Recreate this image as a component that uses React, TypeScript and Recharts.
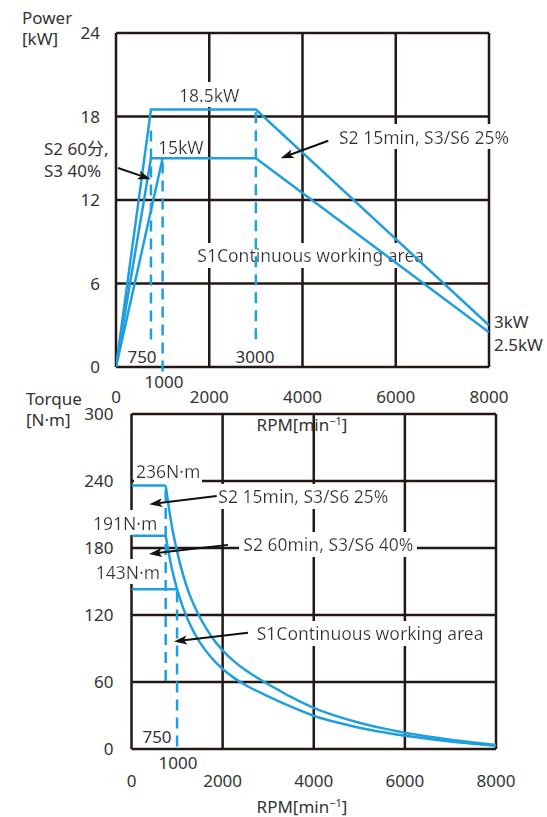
import React from "react";
import { LineChart, Line, XAxis, YAxis, CartesianGrid, ReferenceLine, ReferenceDot } from "recharts";

const rpmTicks = [0, 2000, 4000, 6000, 8000];
const powerTicks = [0, 6, 12, 18, 24];
const torqueTicks = [0, 60, 120, 180, 240, 300];

// power curves, kW
const powerRpmS2_15 = [0, 750, 3000, 8000];
const powerS2_15 = [0, 18.5, 18.5, 3];
const powerRpmS2_60 = [0, 750, 3000, 8000];
const powerS2_60 = [0, 15, 15, 2.5];
const powerRpmS1 = [0, 1000];
const powerS1 = [0, 15];

// torque curves, N·m: flat part, then falling part
const torqueFlatRpm = [0, 750];
const torqueFlatS2_15 = [236, 236];
const torqueFlatS2_60 = [191, 191];
const torqueRpm = [750, 875, 1000, 1125, 1250, 1375, 1500, 1750, 2000, 2250, 2500, 2750, 3000, 3250, 3500, 4000, 4500, 5000, 5500, 6000, 6500, 7000, 7500, 8000];
const torqueS2_15 = [236, 202, 177, 157, 141, 128.5, 118, 101, 88.3, 78.5, 70.7, 64.0, 58.0, 52.2, 46.6, 36.8, 29.4, 23.5, 18.7, 14.6, 11.2, 8.3, 5.8, 3.6];
const torqueS2_60 = [191, 163.7, 143.2, 127.3, 114.6, 104.2, 95.5, 81.9, 71.6, 63.7, 57.3, 52.0, 47.2, 42.4, 37.9, 29.8, 23.9, 19.1, 15.2, 11.9, 9.2, 6.8, 4.8, 3.0];
const torqueRpmS1 = [0, 1000];
const torqueS1 = [143, 143];

// dashed speed markers
const powerDashRpm = [750, 1000, 3000];
const powerDashTop = [17, 14.7, 18.3];
const powerDashBottom = [1.9, -0.5, 1.9];
const torqueDashRpm = [750, 1000];
const torqueDashTop = [232, 141];
const torqueDashBottom = [58, -2];

// annotations (text at data position)
const powerNotes = ["18.5kW", "15kW", "S2 15min, S3/S6 25%", "S1Continuous working area"];
const powerNoteRpm = [1351, 901, 4783, 1744];
const powerNoteKw = [19.5, 15.74, 16.5, 7.98];
const powerNoteAnchor = ["start", "start", "start", "start"];
const powerArrowFrom = [[43, 14.3], [4553, 16.26]];
const powerArrowTo = [[744, 13.5], [3532, 15.0]];

const torqueNotes = ["236N·m", "191N·m", "143N·m", "S2 15min, S3/S6 25%", "S2 60min, S3/S6 40%", "S1Continuous working area"];
const torqueNoteRpm = [99, 566, 626, 1906, 2454, 2748];
const torqueNoteNm = [248.4, 202.2, 158, 225.5, 182.8, 103.2];
const torqueNoteAnchor = ["start", "end", "end", "start", "start", "start"];
const torqueArrowFrom = [[1870, 226.6], [2118, 182.8], [2557, 104]];
const torqueArrowTo = [[391, 219.2], [384, 174.7], [933, 96.3]];

const BLUE = "#1f9fdd";
const GRID = "#231815";
const TEXT = "#333";
const FONT = "'Noto Sans', 'Noto Sans CJK SC', sans-serif";

const pts = (xs: number[], ys: number[]) => xs.map((x, i) => ({ rpm: x, v: ys[i] }));

function Arrow(props: any) {
  const { x1, y1, x2, y2 } = props;
  const dx = x2 - x1;
  const dy = y2 - y1;
  const len = Math.hypot(dx, dy) || 1;
  const ux = dx / len;
  const uy = dy / len;
  const hl = 13;
  const hw = 4.5;
  const bx = x2 - ux * hl;
  const by = y2 - uy * hl;
  const nx = x2 - ux * (hl - 3);
  const ny = y2 - uy * (hl - 3);
  return (
    <g>
      <line x1={x1} y1={y1} x2={nx} y2={ny} stroke="#111" strokeWidth={2} />
      <polygon
        points={`${x2},${y2} ${bx - uy * hw},${by + ux * hw} ${nx},${ny} ${bx + uy * hw},${by - ux * hw}`}
        fill="#111"
      />
    </g>
  );
}

const noteShape = (text: string, anchor: string) => (p: any) => (
  <text
    x={p.cx}
    y={p.cy}
    dy="0.36em"
    textAnchor={anchor}
    fill={TEXT}
    fontSize={17.5}
    fontFamily={FONT}
    filter="url(#tbg)"
  >
    {text}
  </text>
);

function Tag({ x, y, children, align = "left" }: { x: number; y: number; children: React.ReactNode; align?: string }) {
  const tx = align === "center" ? "-50%" : "0";
  return (
    <div
      style={{
        position: "absolute",
        left: x,
        top: y,
        transform: `translate(${tx}, -50%)`,
        fontFamily: FONT,
        fontSize: 17,
        lineHeight: 1,
        color: TEXT,
        whiteSpace: "nowrap",
      }}
    >
      {children}
    </div>
  );
}

const tickStyle = { fill: TEXT, fontSize: 17, fontFamily: FONT };

// shared axes so that the back layer (grid, notes) and the front layer (curves) line up
function axes(yDomain: number[], yTicks: number[], xGap: number, yGap: number, showTicks: boolean) {
  return [
    <XAxis
      key="x"
      dataKey="rpm"
      type="number"
      domain={[0, 8000]}
      ticks={rpmTicks}
      axisLine={false}
      tickLine={false}
      tickSize={xGap}
      tickMargin={xGap}
      height={30}
      tick={showTicks ? tickStyle : false}
      allowDataOverflow
    />,
    <YAxis
      key="y"
      type="number"
      domain={yDomain}
      ticks={yTicks}
      axisLine={false}
      tickLine={false}
      tickSize={yGap}
      tickMargin={yGap}
      width={40}
      tick={showTicks ? tickStyle : false}
      allowDataOverflow
    />,
  ];
}

const layer: React.CSSProperties = { position: "absolute", left: 0, top: 0 };

export default function App() {
  const topMargin = { top: 33, right: 58, left: 76, bottom: 43 };
  const botMargin = { top: 24, right: 51, left: 91.5, bottom: 38 };
  return (
    <div style={{ position: "absolute", left: 0, top: 0, width: 547, height: 817, background: "#fff" }}>
      <svg width={0} height={0} style={{ position: "absolute" }}>
        <defs>
          <filter id="tbg" x="-0.02" y="0" width="1.04" height="1">
            <feFlood floodColor="#fff" />
            <feComposite in="SourceGraphic" operator="over" />
          </filter>
        </defs>
      </svg>

      {/* power chart */}
      <div style={{ ...layer, top: 0 }}>
        <LineChart width={547} height={440} margin={topMargin}>
          <CartesianGrid stroke={GRID} strokeWidth={2.5} horizontalValues={powerTicks} verticalValues={rpmTicks} />
          {axes([0, 24], powerTicks, 12, 8, true)}
          {powerNotes.map((t, i) => (
            <ReferenceDot
              key={t}
              x={powerNoteRpm[i]}
              y={powerNoteKw[i]}
              ifOverflow="visible"
              shape={noteShape(t, powerNoteAnchor[i])}
            />
          ))}
        </LineChart>
      </div>
      <div style={{ ...layer, top: 0 }}>
        <LineChart width={547} height={440} margin={topMargin}>
          {axes([0, 24], powerTicks, 12, 8, false)}
          {powerDashRpm.map((r, i) => (
            <ReferenceLine
              key={r}
              segment={[{ x: r, y: powerDashTop[i] }, { x: r, y: powerDashBottom[i] }]}
              stroke={BLUE}
              strokeWidth={2.5}
              strokeDasharray="11 7"
              ifOverflow="visible"
            />
          ))}
          <Line data={pts(powerRpmS2_15, powerS2_15)} dataKey="v" stroke={BLUE} strokeWidth={2.5} dot={false} isAnimationActive={false} />
          <Line data={pts(powerRpmS2_60, powerS2_60)} dataKey="v" stroke={BLUE} strokeWidth={2.5} dot={false} isAnimationActive={false} />
          <Line data={pts(powerRpmS1, powerS1)} dataKey="v" stroke={BLUE} strokeWidth={2.5} dot={false} isAnimationActive={false} />
          {powerArrowFrom.map((f, i) => (
            <ReferenceLine
              key={i}
              segment={[{ x: f[0], y: f[1] }, { x: powerArrowTo[i][0], y: powerArrowTo[i][1] }]}
              ifOverflow="visible"
              shape={Arrow}
            />
          ))}
        </LineChart>
      </div>

      {/* torque chart */}
      <div style={{ ...layer, top: 390 }}>
        <LineChart width={547} height={427} margin={botMargin}>
          <CartesianGrid stroke={GRID} strokeWidth={2.5} horizontalValues={torqueTicks} verticalValues={rpmTicks} />
          {axes([0, 300], torqueTicks, 13, 9, true)}
          {torqueNotes.map((t, i) => (
            <ReferenceDot
              key={t}
              x={torqueNoteRpm[i]}
              y={torqueNoteNm[i]}
              ifOverflow="visible"
              shape={noteShape(t, torqueNoteAnchor[i])}
            />
          ))}
        </LineChart>
      </div>
      <div style={{ ...layer, top: 390 }}>
        <LineChart width={547} height={427} margin={botMargin}>
          {axes([0, 300], torqueTicks, 13, 9, false)}
          {torqueDashRpm.map((r, i) => (
            <ReferenceLine
              key={r}
              segment={[{ x: r, y: torqueDashTop[i] }, { x: r, y: torqueDashBottom[i] }]}
              stroke={BLUE}
              strokeWidth={2.5}
              strokeDasharray="11 7"
              ifOverflow="visible"
            />
          ))}
          <Line data={pts(torqueFlatRpm, torqueFlatS2_15)} dataKey="v" stroke={BLUE} strokeWidth={2.5} dot={false} isAnimationActive={false} />
          <Line data={pts(torqueFlatRpm, torqueFlatS2_60)} dataKey="v" stroke={BLUE} strokeWidth={2.5} dot={false} isAnimationActive={false} />
          <Line type="monotone" data={pts(torqueRpm, torqueS2_15)} dataKey="v" stroke={BLUE} strokeWidth={2.5} dot={false} isAnimationActive={false} />
          <Line type="monotone" data={pts(torqueRpm, torqueS2_60)} dataKey="v" stroke={BLUE} strokeWidth={2.5} dot={false} isAnimationActive={false} />
          <Line data={pts(torqueRpmS1, torqueS1)} dataKey="v" stroke={BLUE} strokeWidth={2.5} dot={false} isAnimationActive={false} />
          {torqueArrowFrom.map((f, i) => (
            <ReferenceLine
              key={i}
              segment={[{ x: f[0], y: f[1] }, { x: torqueArrowTo[i][0], y: torqueArrowTo[i][1] }]}
              ifOverflow="visible"
              shape={Arrow}
            />
          ))}
        </LineChart>
      </div>

      <Tag x={22} y={17}>Power</Tag>
      <Tag x={22} y={38}>[kW]</Tag>
      <Tag x={44} y={148}>S2 60分,</Tag>
      <Tag x={44} y={170}>S3 40%</Tag>
      <Tag x={142} y={356} align="center">750</Tag>
      <Tag x={164} y={381} align="center">1000</Tag>
      <Tag x={255} y={356} align="center">3000</Tag>
      <Tag x={494} y={321}>3kW</Tag>
      <Tag x={494} y={344}>2.5kW</Tag>
      <Tag x={302} y={424} align="center">
        RPM[min<sup style={{ fontSize: 11 }}>−1</sup>]
      </Tag>

      <Tag x={26} y={398}>Torque</Tag>
      <Tag x={26} y={419}>[N·m]</Tag>
      <Tag x={157} y={736} align="center">750</Tag>
      <Tag x={178} y={762} align="center">1000</Tag>
      <Tag x={302} y={806} align="center">
        RPM[min<sup style={{ fontSize: 11 }}>−1</sup>]
      </Tag>
    </div>
  );
}
